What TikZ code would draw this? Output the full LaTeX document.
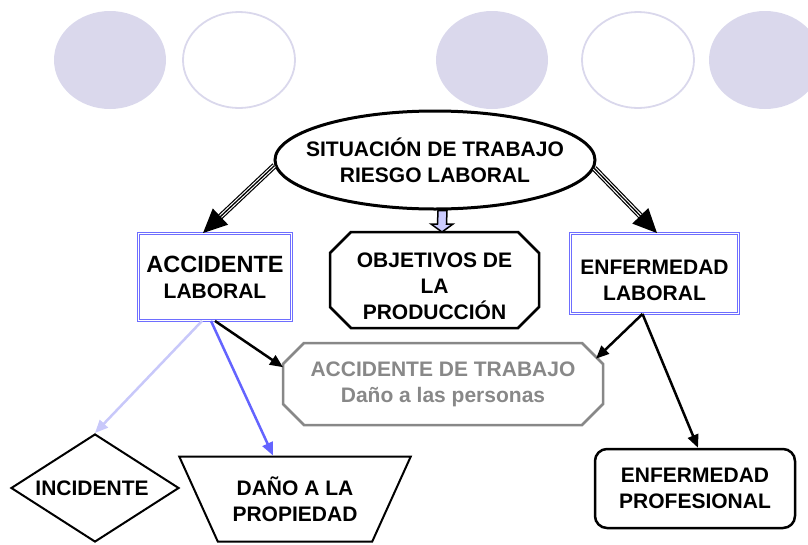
\documentclass[tikz,border=0pt]{standalone}
\usepackage{fontspec}
\setmainfont{Liberation Sans}
\usepackage{tikz}
\usetikzlibrary{arrows.meta}
\usetikzlibrary{shapes.geometric}
\usetikzlibrary{calc}

\definecolor{lavfill}{RGB}{218,216,236}
\definecolor{boxblue}{RGB}{110,110,255}
\definecolor{incblue}{RGB}{200,200,250}
\definecolor{danoblue}{RGB}{100,100,255}
\definecolor{blockfill}{RGB}{204,204,255}
\definecolor{boxgray}{RGB}{136,136,136}

\tikzset{
	txt/.style={align=center, font=\fontsize{21}{26}\selectfont\bfseries},
	bluebox/.style={txt, draw=boxblue, double=white, double distance=1.5pt, line width=0.9pt},
	octbox/.style={txt, inner sep=0pt, outer sep=0pt},
	octline/.style={line width=2.5pt, line join=miter},
	arr/.style={-{Triangle[length=13pt,width=11pt]}, line width=2.5pt},
	bigarr/.style={-{Triangle[length=24pt,width=22pt]}, line width=1.3pt,
		preaction={draw, -, line width=6pt, shorten >=12pt},
		preaction={draw=white, -, line width=3.6pt, shorten >=12pt}},
	blockarr/.style={draw, fill=blockfill, line width=1.5pt, line join=miter}
}

\begin{document}
\begin{tikzpicture}[x=1pt, y=-1pt]
		\useasboundingbox (0,0) rectangle (808,544);

		% circles along the top
		\fill[lavfill] (110,60) ellipse [x radius=56pt, y radius=49pt];
		\draw[lavfill, line width=1.8pt] (239,60) ellipse [x radius=56pt, y radius=48pt];
		\fill[lavfill] (492,60) ellipse [x radius=56pt, y radius=49pt];
		\draw[lavfill, line width=1.8pt] (638,60) ellipse [x radius=56pt, y radius=48pt];
		\fill[lavfill] (765,60) ellipse [x radius=56pt, y radius=49pt];

		\node[txt, ellipse, draw, line width=3pt, minimum width=320pt, minimum height=98pt, inner xsep=-16pt] (sit) at (435,160) {
			SITUACIÓN DE TRABAJO
			\\
			RIESGO LABORAL
		};

		\node[bluebox, minimum width=153pt, minimum height=87pt] (acc) at (215,277) {
			{\fontsize{23.5}{26}\selectfont ACCIDENTE}
			\\
			LABORAL
		};

		\node[octbox, minimum width=209pt, minimum height=96pt] (obj) at (434.5,280) {
			\rule{0pt}{27pt}OBJETIVOS DE
			\\
			LA
			\\
			PRODUCCIÓN
		};

		\node[bluebox, minimum width=168pt, minimum height=80pt] (enf) at (654.5,273.5) {
			\rule{0pt}{29pt}ENFERMEDAD
			\\
			LABORAL
		};

		\node[octbox, text=boxgray, minimum width=320pt, minimum height=82pt] (trab) at (443,384) {
			ACCIDENTE DE TRABAJO
			\\
			Daño a las personas
		};

		\node[txt, diamond, draw, line width=2pt, aspect=1.55, minimum width=168pt, minimum height=108pt, inner sep=0pt] (inc) at (95,488) {
			INCIDENTE
		};

		\node[txt, trapezium, draw, line width=2pt, trapezium angle=56, trapezium stretches=true, shape border rotate=180, minimum width=232pt, minimum height=85pt, inner sep=1pt] (dano) at (295,499) {
			DAÑO A LA
			\\
			PROPIEDAD
		};

		\node[txt, draw, line width=2.5pt, rounded corners=12pt, minimum width=200pt, minimum height=79pt] (prof) at (695,488.5) {
			ENFERMEDAD
			\\
			PROFESIONAL
		};

		% octagon outlines
		\draw[octline] ([xshift=21pt]obj.north west) -- ([xshift=-21pt]obj.north east) -- ([yshift=-21pt]obj.north east) -- ([yshift=21pt]obj.south east) -- ([xshift=-21pt]obj.south east) -- ([xshift=21pt]obj.south west) -- ([yshift=21pt]obj.south west) -- ([yshift=-21pt]obj.north west) -- cycle;
		\draw[octline, boxgray] ([xshift=21pt]trab.north west) -- ([xshift=-21pt]trab.north east) -- ([yshift=-21pt]trab.north east) -- ([yshift=21pt]trab.south east) -- ([xshift=-21pt]trab.south east) -- ([xshift=21pt]trab.south west) -- ([yshift=21pt]trab.south west) -- ([yshift=-21pt]trab.north west) -- cycle;


		\draw[bigarr] (sit.182) -- ([xshift=-12pt]acc.north);
		\draw[bigarr] (sit.-3) -- ([xshift=2.5pt]enf.north);

		\coordinate (bs) at ([xshift=7.5pt]sit.south);
		\coordinate (bt) at ([xshift=7.5pt]obj.north);
		\draw[blockarr] ($(bs)+(-4.5,0)$) -- ($(bt)+(-4.5,-8)$) -- ($(bt)+(-11,-8)$) -- (bt) -- ($(bt)+(11,-8)$) -- ($(bt)+(4.5,-8)$) -- ($(bs)+(4.5,0)$) -- cycle;

		\draw[arr, incblue] ([xshift=-13pt]acc.south) -- (inc.north);
		\draw[arr, danoblue] ([xshift=-4pt]acc.south) -- ([xshift=-22pt]dano.north);
		\draw[arr] (acc.south) -- (trab.174);

		\draw[arr] ([xshift=-12pt]enf.south) -- ([xshift=-7pt]trab.9);
		\draw[arr] ([xshift=-12pt]enf.south) -- ([xshift=3pt]prof.north);

	\end{tikzpicture}
\end{document}
